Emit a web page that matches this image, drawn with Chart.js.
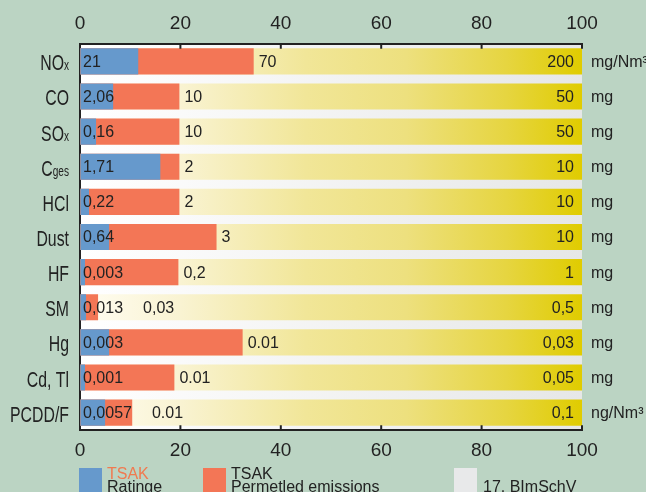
<!DOCTYPE html>
<html><head><meta charset="utf-8">
<script src="https://cdn.jsdelivr.net/npm/chart.js@4"></script>
<style>html,body{margin:0;padding:0;background:#bbd4c3;overflow:hidden}</style>
</head><body>
<canvas id="c" width="646" height="492"></canvas>
<script>
// ---- data ----
const categories = ['NO', 'CO', 'SO', 'C', 'HCl', 'Dust', 'HF', 'SM', 'Hg', 'Cd, Tl', 'PCDD/F'];
const categorySubs = ['x', '', 'x', 'ges', '', '', '', '', '', '', ''];
const ratingPct = [11.6, 6.6, 3.2, 16, 1.8, 5.8, 1.0, 1.2, 5.8, 1.0, 5.0];
const permittedPct = [34.6, 19.8, 19.8, 19.8, 19.8, 27.2, 19.6, 3.6, 32.4, 18.8, 10.4];
const limitPct = [100, 100, 100, 100, 100, 100, 100, 100, 100, 100, 100];
const ratingLabels = ['21', '2,06', '0,16', '1,71', '0,22', '0,64', '0,003', '0,013', '0,003', '0,001', '0,0057'];
const permittedLabels = ['70', '10', '10', '2', '2', '3', '0,2', '0,03', '0.01', '0.01', '0.01'];
const limitLabels = ['200', '50', '50', '10', '10', '10', '1', '0,5', '0,03', '0,05', '0,1'];
const units = ['mg/Nm³', 'mg', 'mg', 'mg', 'mg', 'mg', 'mg', 'mg', 'mg', 'mg', 'ng/Nm³'];
const xTicks = [0, 20, 40, 60, 80, 100];
const legendTop = ['TSAK', 'TSAK', ''];
const legendBottom = ['Ratinge', 'Permetled emissions', '17. BImSchV'];

const FONT = '"Liberation Sans", Arial, sans-serif';
const INK = '#222222';
const BLUE = '#6699cc';
const ORANGE = '#f37656';
const GRAY = '#e8e9ea';

function yellowGradient(ctx) {
  const chart = ctx.chart;
  if (!chart.chartArea) return '#e0cc00';
  const xs = chart.scales.x;
  const g = chart.ctx.createLinearGradient(xs.getPixelForValue(0), 0, xs.getPixelForValue(100), 0);
  g.addColorStop(0, '#fffdf2');
  g.addColorStop(0.2, '#f9f3d2');
  g.addColorStop(0.45, '#f1e698');
  g.addColorStop(0.65, '#ede07e');
  g.addColorStop(0.85, '#e6d540');
  g.addColorStop(1, '#e0cc00');
  return g;
}

function xAxis(pos) {
  return {
    type: 'linear', position: pos, axis: 'x', min: 0, max: 100,
    afterBuildTicks: s => { s.ticks = xTicks.map(v => ({ value: v })); },
    ticks: { font: { family: FONT, size: 19 }, color: INK, padding: 9 },
    grid: { display: true, drawOnChartArea: false, drawTicks: false },
    border: { display: true, color: INK, width: 2 }
  };
}

const decor = {
  id: 'decor',
  beforeDraw(chart) {
    const { ctx, chartArea: a } = chart;
    ctx.save();
    ctx.fillStyle = '#bbd4c3';
    ctx.fillRect(0, 0, chart.width, chart.height);
    const g = ctx.createLinearGradient(a.left, 0, a.right, 0);
    g.addColorStop(0, '#ffffff');
    g.addColorStop(1, '#e6e7e7');
    ctx.fillStyle = g;
    ctx.fillRect(a.left, a.top, a.right - a.left, a.bottom - a.top);
    ctx.restore();
  },
  afterDraw(chart) {
    const { ctx, chartArea: a } = chart;
    const xs = chart.scales.x, ys = chart.scales.y;
    ctx.save();
    // inward tick marks
    ctx.strokeStyle = INK; ctx.lineWidth = 2;
    xTicks.forEach(v => {
      if (v === 0) return;
      const px = xs.getPixelForValue(v);
      ctx.beginPath();
      ctx.moveTo(px, a.top); ctx.lineTo(px, a.top + 5);
      ctx.moveTo(px, a.bottom); ctx.lineTo(px, a.bottom - 5);
      ctx.stroke();
    });
    // value labels
    ctx.fillStyle = INK;
    ctx.textBaseline = 'middle';
    const x0 = xs.getPixelForValue(0);
    const x100 = xs.getPixelForValue(100);
    categories.forEach((c, i) => {
      const y = ys.getPixelForValue(i) + 1;
      ctx.font = '16px ' + FONT;
      ctx.textAlign = 'left';
      ctx.fillText(ratingLabels[i], x0 + 3, y);
      const leftEnd = x0 + 3 + ctx.measureText(ratingLabels[i]).width;
      const pEnd = xs.getPixelForValue(permittedPct[i]);
      const px = Math.max(pEnd + 5, leftEnd + 20);
      ctx.fillText(permittedLabels[i], px, y);
      ctx.textAlign = 'right';
      ctx.fillText(limitLabels[i], x100 - 8, y);
      ctx.textAlign = 'left';
      ctx.fillText(units[i], x100 + 9, y);
      // category labels (condensed)
      const sx = 0.72;
      ctx.textBaseline = 'alphabetic';
      ctx.font = '22px ' + FONT;
      const wm = ctx.measureText(c).width;
      ctx.font = '14px ' + FONT;
      const wsub = categorySubs[i] ? ctx.measureText(categorySubs[i]).width : 0;
      const total = (wm + wsub) * sx;
      ctx.save();
      ctx.translate(a.left - 11 - total, y + 8);
      ctx.scale(sx, 1);
      ctx.font = '22px ' + FONT;
      ctx.fillText(c, 0, 0);
      if (categorySubs[i]) {
        ctx.font = '14px ' + FONT;
        ctx.fillText(categorySubs[i], wm, 0);
      }
      ctx.restore();
      ctx.textBaseline = 'middle';
    });
    // legend
    const items = chart.data.datasets;
    const lx = [79, 203, 454];
    const sqColors = [BLUE, ORANGE, GRAY];
    ctx.textBaseline = 'alphabetic';
    ctx.font = '16px ' + FONT;
    items.forEach((d, i) => {
      ctx.fillStyle = sqColors[i];
      ctx.fillRect(lx[i], 468, 23, 26);
      if (legendTop[i]) {
        ctx.fillStyle = i === 0 ? '#f07a50' : INK;
        ctx.fillText(legendTop[i], lx[i] + 28, 479);
      }
      ctx.fillStyle = INK;
      ctx.fillText(legendBottom[i], lx[i] + 28 + (i === 2 ? 1 : 0), 492);
    });
    ctx.restore();
  }
};

new Chart(document.getElementById('c'), {
  type: 'bar',
  data: {
    labels: categories.map((c, i) => c + categorySubs[i]),
    datasets: [
      { label: 'TSAK Ratinge', data: ratingPct, backgroundColor: BLUE, grouped: false, barPercentage: 0.745, categoryPercentage: 1, xAxisID: 'x', yAxisID: 'y' },
      { label: 'TSAK Permetled emissions', data: permittedPct, backgroundColor: ORANGE, grouped: false, barPercentage: 0.745, categoryPercentage: 1, xAxisID: 'x', yAxisID: 'y' },
      { label: '17. BImSchV', data: limitPct, backgroundColor: yellowGradient, grouped: false, barPercentage: 0.745, categoryPercentage: 1, xAxisID: 'x', yAxisID: 'y' }
    ]
  },
  options: {
    indexAxis: 'y',
    responsive: false,
    devicePixelRatio: 1,
    animation: false,
    layout: { padding: { left: 80, right: 64, top: 3, bottom: 21 } },
    plugins: { legend: { display: false }, tooltip: { enabled: false } },
    scales: {
      x: xAxis('top'),
      x2: xAxis('bottom'),
      y: {
        type: 'category', offset: true,
        ticks: { display: false },
        grid: { display: false, drawTicks: false },
        border: { display: true, color: INK, width: 2 }
      }
    }
  },
  plugins: [decor]
});
</script>
</body></html>
